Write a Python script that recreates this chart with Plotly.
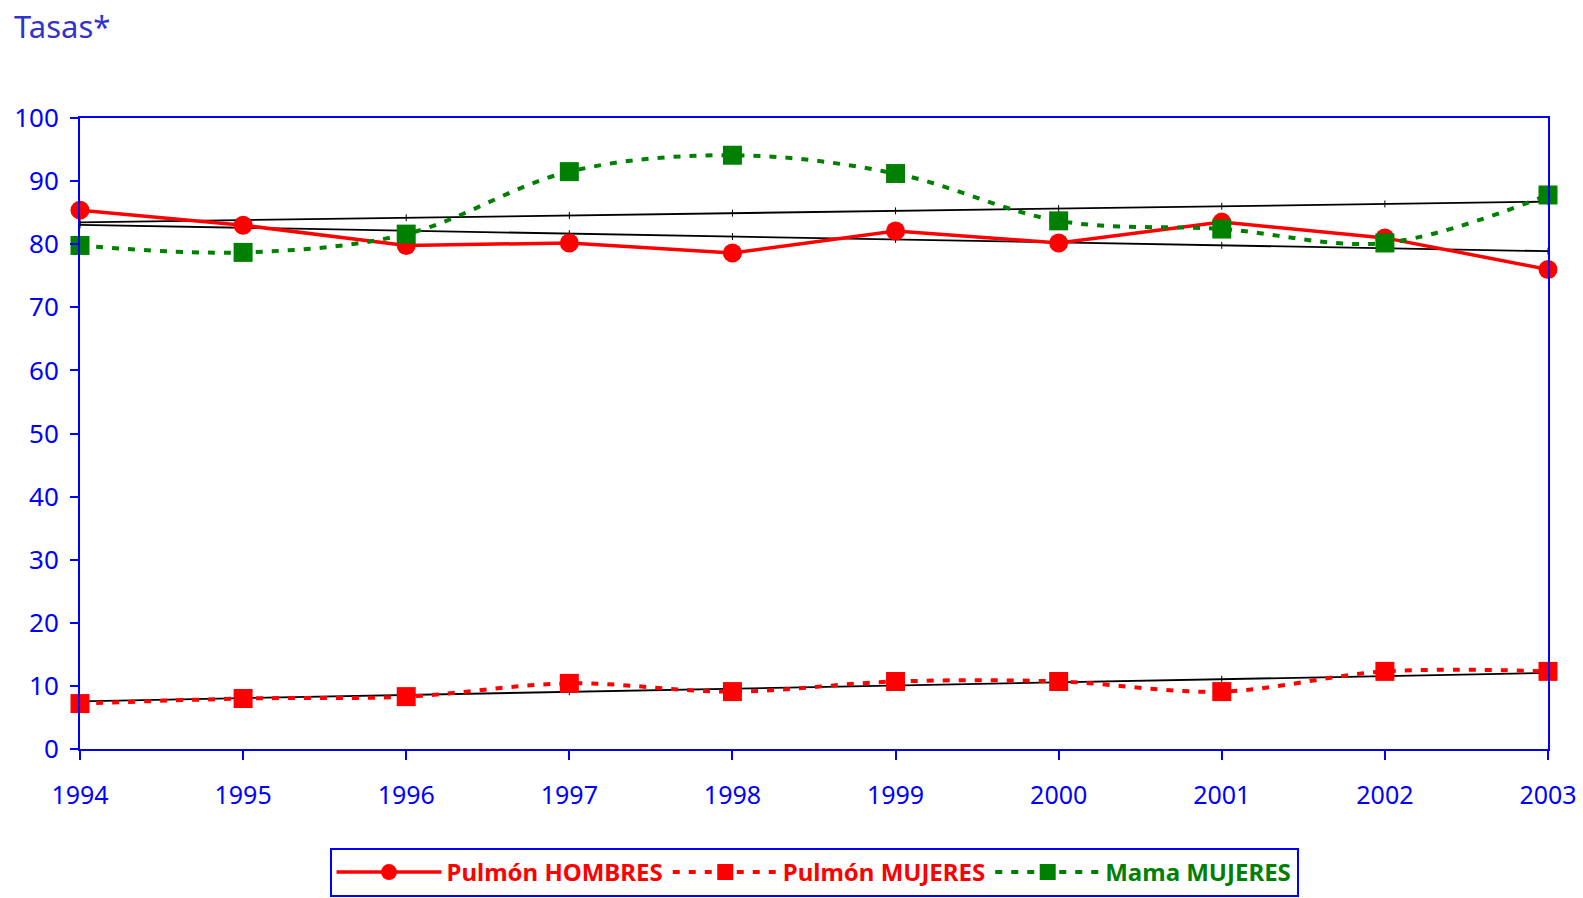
import numpy as np
import plotly.graph_objects as go

years = [1994, 1995, 1996, 1997, 1998, 1999, 2000, 2001, 2002, 2003]
pulmon_hombres = [85.4, 83.0, 79.8, 80.2, 78.6, 82.1, 80.2, 83.5, 81.0, 76.0]
pulmon_mujeres = [7.2, 8.0, 8.3, 10.4, 9.1, 10.7, 10.7, 9.1, 12.3, 12.3]
mama_mujeres = [79.8, 78.7, 81.6, 91.5, 94.1, 91.2, 83.7, 82.4, 80.2, 87.8]
y_ticks = [0, 10, 20, 30, 40, 50, 60, 70, 80, 90, 100]

FONT = "Comic Sans MS, Noto Sans, sans-serif"
BLUE = "#0000FF"
RED = "#FF0000"
GREEN = "#008000"

W, H = 1583, 898

fig = go.Figure()

# linear trend lines
x_arr = np.array(years, dtype=float)
for series in (pulmon_hombres, pulmon_mujeres, mama_mujeres):
    coef = np.polyfit(x_arr, np.array(series), 1)
    fit = np.polyval(coef, x_arr)
    fig.add_trace(go.Scatter(
        x=years, y=fit, mode="lines+markers",
        line=dict(color="black", width=1.8),
        marker=dict(symbol="line-ns", size=5, line=dict(color="black", width=1)),
        showlegend=False, hoverinfo="skip", cliponaxis=False))

fig.add_trace(go.Scatter(
    x=years, y=pulmon_hombres, mode="lines+markers",
    name="<span style='color:#FF0000'><b>Pulmón HOMBRES</b></span>",
    line=dict(color=RED, width=3.5),
    marker=dict(symbol="circle", size=19, color=RED), cliponaxis=False))

fig.add_trace(go.Scatter(
    x=years, y=pulmon_mujeres, mode="lines+markers",
    name="<span style='color:#FF0000'><b>Pulmón MUJERES</b></span>",
    line=dict(color=RED, width=4, dash="7px,9px", shape="spline"),
    marker=dict(symbol="square", size=19, color=RED), cliponaxis=False))

fig.add_trace(go.Scatter(
    x=years, y=mama_mujeres, mode="lines+markers",
    name="<span style='color:#008000'><b>Mama MUJERES</b></span>",
    line=dict(color=GREEN, width=4, dash="7px,9px", shape="spline"),
    marker=dict(symbol="square", size=19, color=GREEN), cliponaxis=False))

fig.update_layout(
    width=W, height=H,
    margin=dict(l=80, r=35, t=118, b=149, autoexpand=False),
    paper_bgcolor="white", plot_bgcolor="white",
    font=dict(family=FONT, color=BLUE, size=22),
    legend=dict(
        orientation="h", x=0.5, xanchor="center",
        yref="container", y=1 - 848 / H, yanchor="top",
        bordercolor=BLUE, borderwidth=2, font=dict(size=24, family=FONT),
        itemwidth=105, traceorder="normal", bgcolor="white"),
    annotations=[dict(
        text="Tasas*", xref="paper", yref="paper", x=-0.046, y=1.146,
        xanchor="left", yanchor="middle", showarrow=False,
        font=dict(size=31, color="#3333CC", family=FONT))],
)

fig.update_xaxes(
    range=[1994, 2003], tickvals=years, ticktext=[str(y) for y in years],
    showline=True, linecolor=BLUE, linewidth=2, mirror=True,
    ticks="outside", ticklen=9, tickcolor=BLUE, tickwidth=1.5,
    ticklabelstandoff=14, ticklabeloverflow="allow",
    showgrid=False, zeroline=False, automargin=False,
    tickfont=dict(size=25, color=BLUE, family=FONT))

fig.update_yaxes(
    range=[0, 100], tickvals=y_ticks,
    showline=True, linecolor=BLUE, linewidth=2, mirror=True,
    ticks="outside", ticklen=8, tickcolor=BLUE, tickwidth=1.5,
    ticklabelstandoff=6, showgrid=False, zeroline=False, automargin=False,
    tickfont=dict(size=26, color=BLUE, family=FONT))

fig.write_html("out.html", config={"displayModeBar": False},
               post_script="document.body.style.margin='0px';")
